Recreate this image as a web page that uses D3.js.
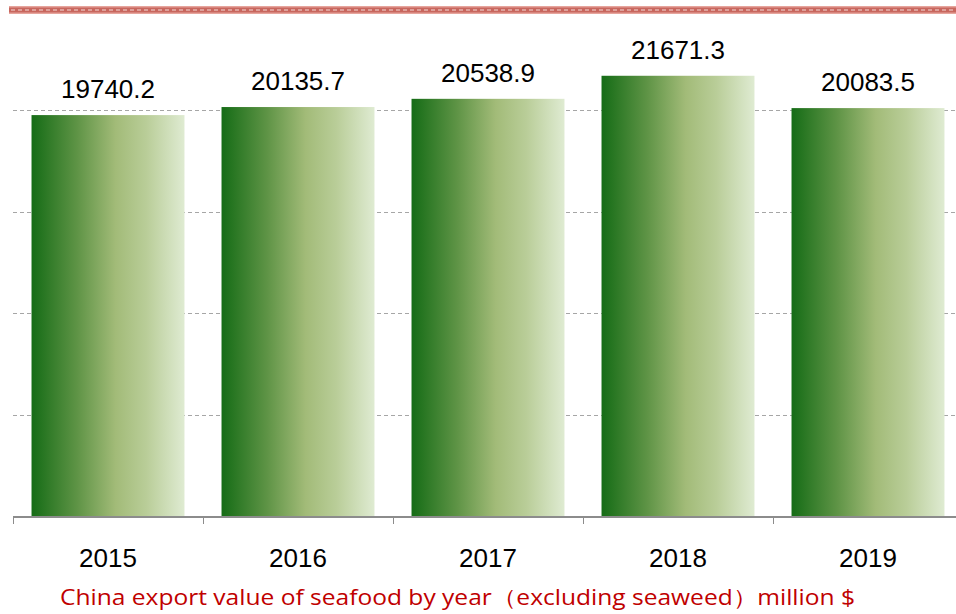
<!DOCTYPE html>
<html>
<head>
<meta charset="utf-8">
<script src="https://cdn.jsdelivr.net/npm/d3@7"></script>
<style>
  body { margin: 0; background: #fff; overflow: hidden; }
  svg { display: block; }
</style>
</head>
<body>
<div id="chart"></div>
<script>
// Data
const years = ["2015", "2016", "2017", "2018", "2019"];
const exportValues = [19740.2, 20135.7, 20538.9, 21671.3, 20083.5];
const gridTicks = [5000, 10000, 15000, 20000];
const captionText = "China export value of seafood by year\uFF08excluding seaweed\uFF09million $";

// Dimensions
const width = 956;
const height = 614;
const margin = {top: 8, right: -7, bottom: 97, left: 13};
const innerWidth = width - margin.left - margin.right;
const innerHeight = height - margin.top - margin.bottom;

const svg = d3.select("#chart")
  .append("svg")
    .attr("width", width)
    .attr("height", height);

const defs = svg.append("defs");

// Bar gradient, dark green on the left fading to pale on the right
const grad = defs.append("linearGradient")
  .attr("id", "bar-gradient")
  .attr("x1", "0%").attr("y1", "0%")
  .attr("x2", "100%").attr("y2", "0%");
[["0%", "#156c16"], ["30%", "#5f9446"], ["55%", "#a2bb78"], ["75%", "#b9cd98"], ["100%", "#dfebd2"]]
  .forEach(([o, c]) => grad.append("stop").attr("offset", o).attr("stop-color", c));

// Decorative band at the top
svg.append("rect")
  .attr("x", 9).attr("y", 6)
  .attr("width", width - 9).attr("height", 8)
  .attr("fill", "#c8675e");
svg.append("rect")
  .attr("x", 9).attr("y", 6)
  .attr("width", width - 9).attr("height", 1.5)
  .attr("fill", "#e6a49c");
svg.append("rect")
  .attr("x", 9).attr("y", 12.5)
  .attr("width", width - 9).attr("height", 1.5)
  .attr("fill", "#e6a49c");
svg.append("line")
  .attr("x1", 11).attr("x2", width)
  .attr("y1", 10).attr("y2", 10)
  .attr("stroke", "#f4dcd8")
  .attr("stroke-width", 1.2)
  .attr("stroke-dasharray", "4,3");

const innerChart = svg.append("g")
  .attr("transform", `translate(${margin.left}, ${margin.top})`);

// Scales
const xScale = d3.scaleBand()
  .domain(years)
  .range([0, innerWidth])
  .paddingInner(0.195)
  .paddingOuter(0.0975);

const xTickScale = d3.scaleBand().domain(years).range([0, innerWidth]);

const yScale = d3.scaleLinear()
  .domain([0, 25000])
  .range([innerHeight, 0]);

// Gridlines
innerChart.selectAll(".grid")
  .data(gridTicks)
  .join("line")
    .attr("class", "grid")
    .attr("x1", 0)
    .attr("x2", innerWidth)
    .attr("y1", d => Math.round(yScale(d)) + 0.5)
    .attr("y2", d => Math.round(yScale(d)) + 0.5)
    .attr("stroke", "#a6a6a6")
    .attr("stroke-width", 1)
    .attr("stroke-dasharray", "4,3");

// Bars
innerChart.selectAll(".bar")
  .data(years)
  .join("rect")
    .attr("class", "bar")
    .attr("x", d => xScale(d))
    .attr("y", (d, i) => yScale(exportValues[i]))
    .attr("width", xScale.bandwidth())
    .attr("height", (d, i) => innerHeight - yScale(exportValues[i]))
    .attr("fill", "url(#bar-gradient)");

// Value labels
innerChart.selectAll(".value-label")
  .data(years)
  .join("text")
    .attr("class", "value-label")
    .attr("x", d => xScale(d) + xScale.bandwidth() / 2)
    .attr("y", (d, i) => yScale(exportValues[i]) - 17)
    .attr("text-anchor", "middle")
    .attr("font-family", "Liberation Sans, Arial, sans-serif")
    .attr("font-size", 26)
    .attr("fill", "#000")
    .text((d, i) => exportValues[i].toFixed(1));

// x-axis line and ticks
innerChart.append("line")
  .attr("x1", 0).attr("x2", innerWidth)
  .attr("y1", innerHeight).attr("y2", innerHeight)
  .attr("stroke", "#8c8c8c")
  .attr("stroke-width", 2);

innerChart.selectAll(".tick-mark")
  .data(years)
  .join("line")
    .attr("class", "tick-mark")
    .attr("x1", d => Math.round(xTickScale(d)) + 0.5)
    .attr("x2", d => Math.round(xTickScale(d)) + 0.5)
    .attr("y1", innerHeight)
    .attr("y2", innerHeight + 7)
    .attr("stroke", "#8c8c8c")
    .attr("stroke-width", 1);

// Year labels
innerChart.selectAll(".year-label")
  .data(years)
  .join("text")
    .attr("class", "year-label")
    .attr("x", d => xScale(d) + xScale.bandwidth() / 2)
    .attr("y", innerHeight + 50)
    .attr("text-anchor", "middle")
    .attr("font-family", "Liberation Sans, Arial, sans-serif")
    .attr("font-size", 26)
    .attr("fill", "#000")
    .text(d => d);

// Caption
svg.append("text")
  .attr("x", 60)
  .attr("y", 605)
  .attr("font-family", "Open Sans, Noto Sans, sans-serif")
  .attr("font-size", 22)
  .attr("fill", "#c00000")
  .attr("textLength", 795)
  .attr("lengthAdjust", "spacingAndGlyphs")
  .text(captionText);
</script>
</body>
</html>
